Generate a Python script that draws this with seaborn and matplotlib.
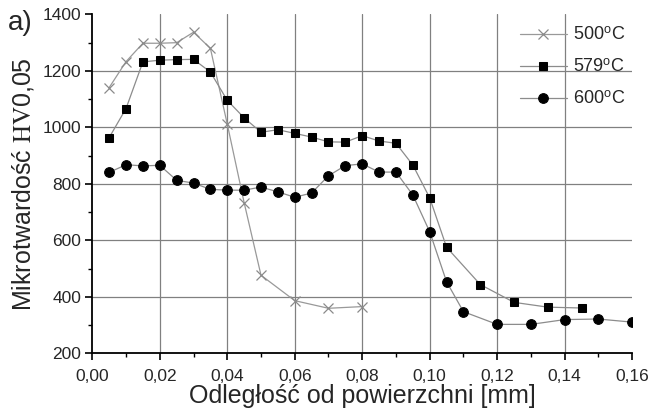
import numpy as np
import pandas as pd
import seaborn as sns
import matplotlib
matplotlib.use('Agg')
import matplotlib.pyplot as plt
from matplotlib.ticker import MultipleLocator, FuncFormatter

# odległość od powierzchni [mm]
x_500 = [0.005, 0.010, 0.015, 0.020, 0.025, 0.030, 0.035, 0.040, 0.045, 0.050, 0.060, 0.070, 0.080]
hv_500 = [1141, 1233, 1298, 1298, 1300, 1337, 1280, 1012, 734, 477, 387, 360, 366]

x_579 = [0.005, 0.010, 0.015, 0.020, 0.025, 0.030, 0.035, 0.040, 0.045, 0.050, 0.055, 0.060,
         0.065, 0.070, 0.075, 0.080, 0.085, 0.090, 0.095, 0.100, 0.105, 0.115, 0.125, 0.135, 0.145]
hv_579 = [964, 1067, 1232, 1238, 1240, 1241, 1196, 1096, 1034, 983, 992, 979,
          966, 949, 948, 971, 952, 944, 867, 751, 576, 444, 381, 364, 361]

x_600 = [0.005, 0.010, 0.015, 0.020, 0.025, 0.030, 0.035, 0.040, 0.045, 0.050, 0.055, 0.060,
         0.065, 0.070, 0.075, 0.080, 0.085, 0.090, 0.095, 0.100, 0.105, 0.110, 0.120, 0.130,
         0.140, 0.150, 0.160]
hv_600 = [841, 868, 864, 866, 813, 803, 781, 778, 778, 789, 772, 753,
          768, 829, 865, 871, 842, 842, 761, 631, 454, 348, 303, 303,
          320, 322, 311]

labels = ['500$^\\mathregular{o}$C', '579$^\\mathregular{o}$C', '600$^\\mathregular{o}$C']

sns.set_style('white')
plt.rcParams['font.family'] = ['Liberation Sans', 'DejaVu Sans']
plt.rcParams['mathtext.fontset'] = 'stix'

fig = plt.figure(figsize=(6.64, 4.12), dpi=100)
ax = fig.add_axes([0.139, 0.142, 0.813, 0.823])

# siatka tylko na wewnętrznych działkach
for yv in [400, 600, 800, 1000, 1200]:
    ax.axhline(yv, color='#808080', lw=0.9, zorder=0)
for xv in [0.02, 0.04, 0.06, 0.08, 0.10, 0.12, 0.14]:
    ax.axvline(xv, color='#808080', lw=0.9, zorder=0)

d500 = pd.DataFrame({'x': x_500, 'hv': hv_500})
d579 = pd.DataFrame({'x': x_579, 'hv': hv_579})
d600 = pd.DataFrame({'x': x_600, 'hv': hv_600})

sns.lineplot(data=d500, x='x', y='hv', ax=ax, color='#999999', lw=0.9, marker='x',
             markersize=6.5, markeredgewidth=0.9, markeredgecolor='#8a8a8a',
             estimator=None, sort=False, label=labels[0])
sns.lineplot(data=d579, x='x', y='hv', ax=ax, color='#8c8c8c', lw=0.9, marker='s',
             markersize=6.3, markerfacecolor='black', markeredgecolor='black',
             estimator=None, sort=False, label=labels[1])
sns.lineplot(data=d600, x='x', y='hv', ax=ax, color='#8c8c8c', lw=0.9, marker='o',
             markersize=7, markerfacecolor='black', markeredgecolor='black',
             estimator=None, sort=False, label=labels[2])

ax.set_xlim(0, 0.16)
ax.set_ylim(200, 1400)
ax.xaxis.set_major_locator(MultipleLocator(0.02))
ax.xaxis.set_minor_locator(MultipleLocator(0.01))
ax.yaxis.set_major_locator(MultipleLocator(200))
ax.yaxis.set_minor_locator(MultipleLocator(100))
ax.xaxis.set_major_formatter(FuncFormatter(lambda v, p: f'{v:.2f}'.replace('.', ',')))
ax.yaxis.set_major_formatter(FuncFormatter(lambda v, p: f'{v:.0f}'))

sns.despine(ax=ax, top=True, right=True)
for s in ['left', 'bottom']:
    ax.spines[s].set_color('black')
    ax.spines[s].set_linewidth(1.3)
ax.tick_params(which='major', direction='out', length=5, width=1.2, color='black',
               labelsize=12.5, bottom=True, left=True)
ax.tick_params(axis='x', which='major', pad=6)
ax.tick_params(axis='y', which='major', pad=3)
ax.tick_params(which='minor', direction='out', length=3, width=1.0, color='black',
               bottom=True, left=True)

ax.set_xlabel('Odległość od powierzchni [mm]', fontsize=18, labelpad=0)
ax.set_ylabel('Mikrotwardość $\\mathrm{HV}$0,05', fontsize=18, labelpad=5)

leg = ax.legend(loc='upper left', bbox_to_anchor=(0.775, 0.99), frameon=False,
                fontsize=13, handlelength=2.6, handletextpad=0.35, labelspacing=0.8,
                borderpad=0)

fig.text(0.012, 0.975, 'a)', fontsize=20, ha='left', va='top')

fig.savefig('out.png', dpi=100)
